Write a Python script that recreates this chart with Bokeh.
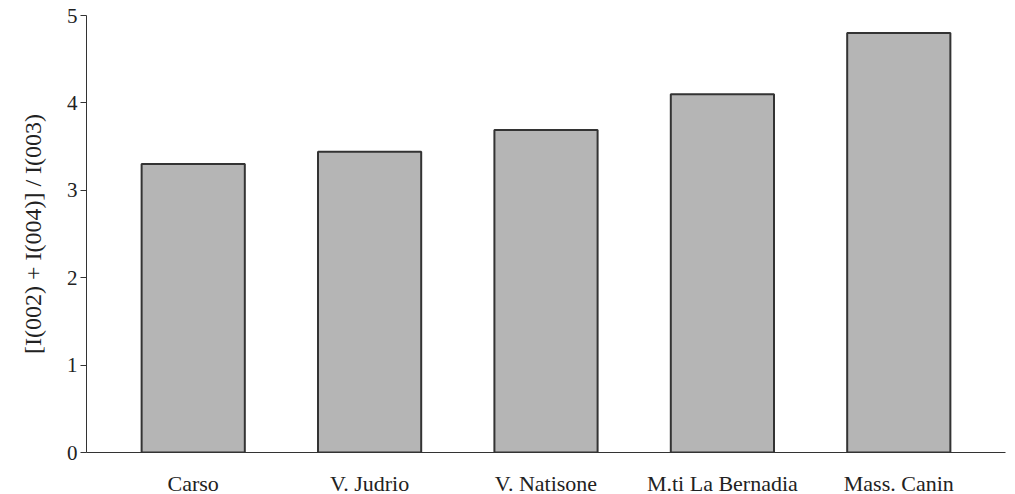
from bokeh.plotting import figure
from bokeh.models import FactorRange, Range1d, ColumnDataSource
from bokeh.embed import file_html
from bokeh.resources import INLINE

sites = ["Carso", "V. Judrio", "V. Natisone", "M.ti La Bernadia", "Mass. Canin"]
ratio = [3.30, 3.44, 3.69, 4.10, 4.80]
y_ticks = [0, 1, 2, 3, 4, 5]

src = ColumnDataSource(dict(site=sites, ratio=ratio))

FONT = "Liberation Serif"

p = figure(frame_width=919, frame_height=437, output_backend="svg", toolbar_location=None,
           x_range=FactorRange(*sites, range_padding=0.042),
           y_range=Range1d(0, 5),
           min_border_left=86, min_border_right=2, min_border_top=15, min_border_bottom=30)

p.vbar(x="site", top="ratio", width=0.585, source=src,
       fill_color="#b5b5b5", line_color="#333333", line_width=2)

p.outline_line_color = None
p.grid.grid_line_color = None
p.background_fill_color = "white"
p.border_fill_color = "white"

p.yaxis.ticker = y_ticks
p.yaxis.axis_label = "[I(002) + I(004)] / I(003)"
p.yaxis.axis_label_text_font = FONT
p.yaxis.axis_label_text_font_style = "normal"
p.yaxis.axis_label_text_font_size = "24px"
p.yaxis.axis_label_text_color = "#222222"
p.yaxis.axis_label_standoff = 18
p.yaxis.major_label_text_font = FONT
p.yaxis.major_label_text_font_size = "21px"
p.yaxis.major_label_text_color = "#222222"
p.yaxis.major_tick_out = 6
p.yaxis.major_tick_in = 0
p.yaxis.minor_tick_line_color = None
p.yaxis.axis_line_color = "#333333"
p.yaxis.major_tick_line_color = "#333333"
p.yaxis.major_label_standoff = 3

p.xaxis.major_label_text_font = FONT
p.xaxis.major_label_text_font_size = "22px"
p.xaxis.major_label_text_color = "#222222"
p.xaxis.major_tick_line_color = None
p.xaxis.minor_tick_line_color = None
p.xaxis.axis_line_color = "#333333"
p.xaxis.major_label_standoff = 12

open("out.html", "w").write(file_html(p, INLINE))
